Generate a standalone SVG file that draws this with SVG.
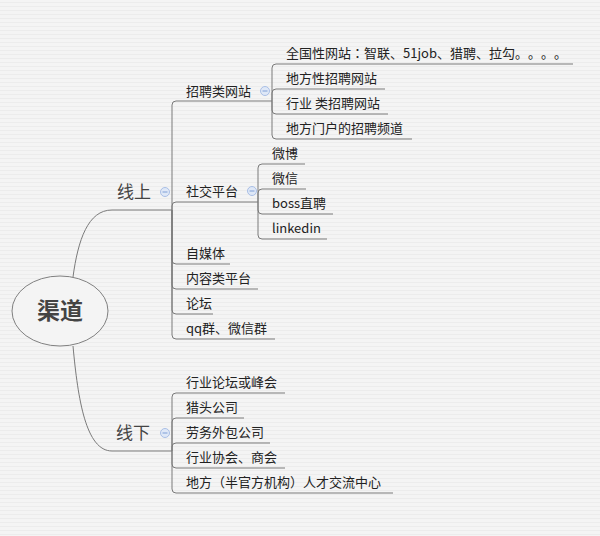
<svg xmlns="http://www.w3.org/2000/svg" width="600" height="536" viewBox="0 0 600 536">
<defs>
<pattern id="bg" width="4" height="4" patternUnits="userSpaceOnUse">
<rect width="4" height="4" fill="#f4f4f4"/>
<rect y="2" width="4" height="1" fill="#ececec"/>
</pattern>
<g id="minus">
<circle r="4.5" fill="#dfe8f7" stroke="#a9bfe6" stroke-width="1"/>
<line x1="-2.5" y1="0" x2="2.5" y2="0" stroke="#7f9fd6" stroke-width="1"/>
</g>
</defs>
<style>
.c{fill:none;stroke:#7a7a7a;stroke-width:1}
text{font-family:"Noto Sans CJK SC","Microsoft YaHei",sans-serif;fill:#222;font-size:13px;text-spacing-trim:space-all}
.jp{font-family:"Noto Sans CJK JP","Noto Sans CJK SC",sans-serif}
.m{font-size:17px;fill:#444}
.r{font-size:23px;font-weight:bold;fill:#444}
</style>
<rect width="600" height="536" fill="url(#bg)"/>
<g id="connectors">
<path class="c" d="M73,277 C78,240 88,210 112,210 L172,210"/>
<path class="c" d="M73,346 C78,400 86,451 112,451 L172,451"/>
<path class="c" d="M172,210 L172,105 Q172,101 176,101 L272,101"/>
<path class="c" d="M172,210 L172,206 Q172,202 176,202 L258,202"/>
<path class="c" d="M172,210 L172,260 Q172,264 176,264 L230,264"/>
<path class="c" d="M172,210 L172,285 Q172,289 176,289 L258,289"/>
<path class="c" d="M172,210 L172,310 Q172,314 176,314 L213,314"/>
<path class="c" d="M172,210 L172,335 Q172,339 176,339 L275,339"/>
<path class="c" d="M272,101 L272,68 Q272,64 276,64 L573,64"/>
<path class="c" d="M272,101 L272,93 Q272,89 276,89 L385,89"/>
<path class="c" d="M272,101 L272,110 Q272,114 276,114 L388,114"/>
<path class="c" d="M272,101 L272,135 Q272,139 276,139 L412,139"/>
<path class="c" d="M258,202 L258,168 Q258,164 262,164 L305,164"/>
<path class="c" d="M258,202 L258,193 Q258,189 262,189 L306,189"/>
<path class="c" d="M258,202 L258,210 Q258,214 262,214 L333,214"/>
<path class="c" d="M258,202 L258,235 Q258,239 262,239 L327,239"/>
<path class="c" d="M172,451 L172,397 Q172,393 176,393 L285,393"/>
<path class="c" d="M172,451 L172,422 Q172,418 176,418 L244,418"/>
<path class="c" d="M172,451 L172,447 Q172,443 176,443 L270,443"/>
<path class="c" d="M172,451 L172,464 Q172,468 176,468 L285,468"/>
<path class="c" d="M172,451 L172,489 Q172,493 176,493 L393,493"/>
</g>
<g id="root">
<ellipse cx="60" cy="311" rx="48" ry="35" fill="#f4f4f4" stroke="#808080" stroke-width="1"/>
<text class="r" x="60" y="319" text-anchor="middle">渠道</text>
</g>
<g id="online">
<text class="m" x="117" y="198">线上</text>
<use href="#minus" x="165" y="192"/>
</g>
<g id="offline">
<text class="m" x="116" y="439">线下</text>
<use href="#minus" x="165" y="433"/>
</g>
<g id="recruit-sites">
<text x="186" y="96">招聘类网站</text>
<use href="#minus" x="265" y="91"/>
</g>
<g id="social">
<text x="186" y="196">社交平台</text>
<use href="#minus" x="252" y="191"/>
</g>
<g id="n-national"><text class="jp" x="286" y="58">全国性网站：智联、51job、猎聘、拉勾。。。。</text></g>
<g id="n-local"><text x="286" y="83">地方性招聘网站</text></g>
<g id="n-industry"><text x="286" y="108">行业 类招聘网站</text></g>
<g id="n-portal"><text x="286" y="133">地方门户的招聘频道</text></g>
<g id="n-weibo"><text x="272" y="158">微博</text></g>
<g id="n-wechat"><text x="272" y="183">微信</text></g>
<g id="n-boss"><text x="272" y="208">boss直聘</text></g>
<g id="n-linkedin"><text x="272" y="233">linkedin</text></g>
<g id="n-media"><text x="186" y="258">自媒体</text></g>
<g id="n-content"><text x="186" y="283">内容类平台</text></g>
<g id="n-forum"><text x="186" y="308">论坛</text></g>
<g id="n-qq"><text x="186" y="333">qq群、微信群</text></g>
<g id="n-summit"><text x="186" y="387">行业论坛或峰会</text></g>
<g id="n-headhunter"><text x="186" y="412">猎头公司</text></g>
<g id="n-outsourcing"><text x="186" y="437">劳务外包公司</text></g>
<g id="n-association"><text x="186" y="462">行业协会、商会</text></g>
<g id="n-talent"><text x="186" y="487">地方（半官方机构）人才交流中心</text></g>
</svg>
